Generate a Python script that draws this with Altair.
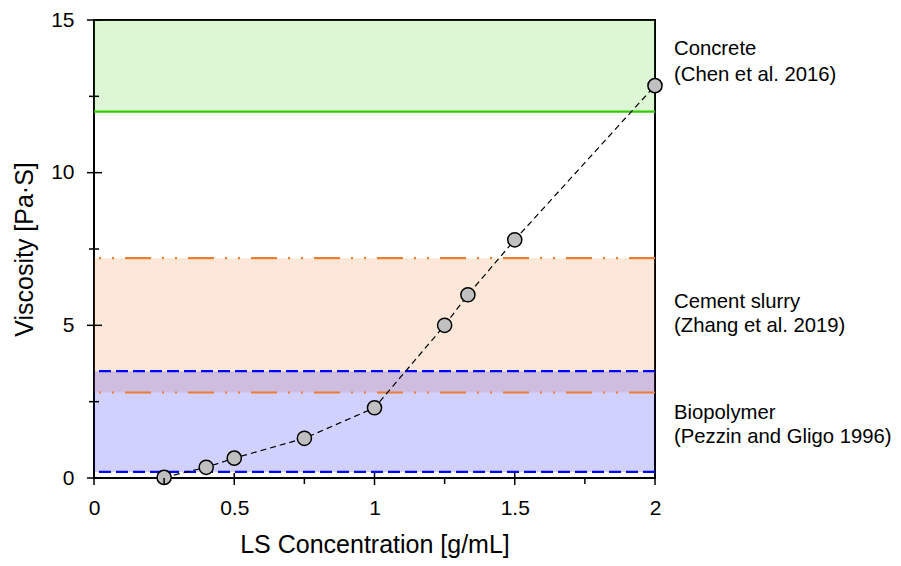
import altair as alt
import pandas as pd

# ---- data ----
conc = [0.25, 0.4, 0.5, 0.75, 1.0, 1.25, 1.333, 1.5, 2.0]
visc = [0.02, 0.35, 0.65, 1.3, 2.3, 5.0, 6.0, 7.8, 12.85]

band_names = ["Concrete", "Cement slurry", "Biopolymer"]
band_lo = [12.0, 2.8, 0.2]
band_hi = [15.0, 7.2, 3.5]
band_color = ["#33cc00", "#ed7d31", "#0000ff"]
band_opacity = [0.17, 0.19, 0.18]

label_lines = ["Concrete", "(Chen et al. 2016)",
               "Cement slurry", "(Zhang et al. 2019)",
               "Biopolymer", "(Pezzin and Gligo 1996)"]
label_y = [13.855, 13.0, 5.57, 4.78, 1.93, 1.14]

x_major = [0, 0.5, 1, 1.5, 2]
x_minor = [0.25, 0.75, 1.25, 1.75]
y_major = [0, 5, 10, 15]
y_minor = [2.5, 7.5, 12.5]

W, H = 561, 458
FONT = "Liberation Sans"

pts = pd.DataFrame({"x": conc, "y": visc})
bands = pd.DataFrame({"name": band_names, "lo": band_lo, "hi": band_hi,
                      "color": band_color, "op": band_opacity})
labels = pd.DataFrame({"t": label_lines, "y": label_y})

xs = alt.Scale(domain=[0, 2], nice=False, zero=False)
ys = alt.Scale(domain=[0, 15], nice=False, zero=False)

x_axis = alt.Axis(values=x_major, format="~g", title="LS Concentration [g/mL]",
                  labelPadding=19, titleY=74, titleBaseline="alphabetic",
                  labelFlush=False, labelFontSize=21, labelFont=FONT)
y_axis = alt.Axis(values=y_major, format="d", title="Viscosity [Pa·S]",
                  labelPadding=20, titleX=-70, titleBaseline="middle",
                  labelFlush=False, labelFontSize=21, labelFont=FONT)

def X(f):
    return alt.X(f, type="quantitative", scale=xs, axis=x_axis)

def Y(f):
    return alt.Y(f, type="quantitative", scale=ys, axis=y_axis)

band_layer = alt.Chart(bands).mark_rect(strokeWidth=0).encode(
    x=alt.value(0), x2=alt.value(W),
    y=Y("lo"), y2=alt.Y2("hi"),
    color=alt.Color("color:N", scale=None),
    opacity=alt.Opacity("op:Q", scale=None),
)

orange_lines = alt.Chart(pd.DataFrame({"y": [band_lo[1], band_hi[1]]})).mark_rule(
    color=band_color[1], strokeWidth=2.2, strokeDash=[26, 11, 2, 11, 2, 11]
).encode(y=Y("y"))

blue_lines = alt.Chart(pd.DataFrame({"y": [band_lo[2], band_hi[2]]})).mark_rule(
    color=band_color[2], strokeWidth=2.2, strokeDash=[12, 5]
).encode(y=Y("y"))

green_line = alt.Chart(pd.DataFrame({"y": [band_lo[0]]})).mark_rule(
    color=band_color[0], strokeWidth=2.2
).encode(y=Y("y"))

data_line = alt.Chart(pts).mark_line(
    color="black", strokeWidth=1.2, strokeDash=[6, 4]
).encode(x=X("x"), y=Y("y"))

data_pts = alt.Chart(pts).mark_point(
    shape="circle", filled=True, fill="#c0c0c0", stroke="black",
    strokeWidth=1.5, size=200, opacity=1
).encode(x=X("x"), y=Y("y"))

y_major_ticks = alt.Chart(pd.DataFrame({"v": y_major})).mark_rule(
    color="black", strokeWidth=1.5
).encode(y=Y("v"), x=alt.value(-7), x2=alt.value(8))

y_minor_ticks = alt.Chart(pd.DataFrame({"v": y_minor})).mark_rule(
    color="black", strokeWidth=1.5
).encode(y=Y("v"), x=alt.value(-5), x2=alt.value(5))

x_major_ticks = alt.Chart(pd.DataFrame({"v": x_major})).mark_rule(
    color="black", strokeWidth=1.5
).encode(x=X("v"), y=alt.value(H - 5), y2=alt.value(H + 7))

x_minor_ticks = alt.Chart(pd.DataFrame({"v": x_minor})).mark_rule(
    color="black", strokeWidth=1.5
).encode(x=X("v"), y=alt.value(H), y2=alt.value(H + 6))

label_layer = alt.Chart(labels).mark_text(
    align="left", baseline="alphabetic", font=FONT, fontSize=20.3, color="black"
).encode(x=alt.value(580), y=Y("y"), text="t:N")

chart = alt.layer(
    band_layer, orange_lines, blue_lines, green_line,
    data_line, data_pts,
    y_major_ticks, y_minor_ticks, x_major_ticks, x_minor_ticks,
    label_layer,
).properties(
    width=W, height=H,
    padding={"left": 86, "top": 12, "right": 901 - 16 - 86 - W, "bottom": 566 - 16 - 12 - H},
    autosize=alt.AutoSizeParams(type="none"),
).configure_view(
    stroke="black", strokeWidth=2
).configure_axis(
    domain=False, ticks=False, grid=False,
    labelFont=FONT, labelColor="black",
    titleFont=FONT, titleFontSize=25, titleFontWeight="normal", titleColor="black",
)

chart.save("out.html", embed_options={"renderer": "svg", "actions": False})
